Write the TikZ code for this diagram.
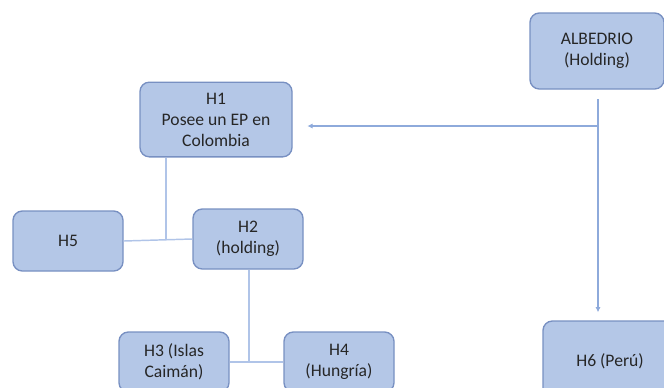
\documentclass[tikz,border=0pt]{standalone}
\usepackage{fontspec}
\setmainfont{Carlito}
\usetikzlibrary{arrows.meta}
\definecolor{cajaazul}{HTML}{B4C7E7}
\definecolor{bordeazul}{HTML}{7890C2}
\definecolor{lineaazul}{HTML}{B0C4E8}
\definecolor{flechaazul}{HTML}{8EAADB}
\begin{document}
\begin{tikzpicture}[
    x=0.75pt, y=-0.75pt,
    caja/.style={rectangle, draw=bordeazul, fill=cajaazul, line width=1pt, rounded corners=7pt, minimum width=82.5pt, minimum height=45pt, align=center, font=\fontsize{13.2}{15.75}\selectfont, text=black!85, inner sep=2pt},
    enlace/.style={draw=lineaazul, line width=1.1pt},
    flecha/.style={-{Latex[length=4pt,width=4pt]}, draw=flechaazul, line width=1pt}
]
    \useasboundingbox (0,0) rectangle (664,387);

    % Sociedades
    \node[caja, minimum width=100.5pt, minimum height=57pt] (alb) at (597,51) {ALBEDRIO\\(Holding)};
    \node[caja, minimum width=114pt, minimum height=56pt] (h1) at (216,119.5) {H1\\Posee un EP en\\Colombia};
    \node[caja] (h5) at (68,241) {H5};
    \node[caja] (h2) at (248,239) {H2\\(holding)};
    \node[caja] (h3) at (174,362) {H3 (Islas\\Caim\'an)};
    \node[caja] (h4) at (339,362) {H4\\(Hungr\'ia)};
    \node[caja, minimum width=100.5pt, minimum height=60pt] (h6) at (610,361) {H6 (Per\'u)};

    % Puntos de union
    \coordinate (ini) at (598,99);
    \coordinate (div) at (598,126);
    \coordinate (u1) at (166,240);
    \coordinate (u2) at (249,362);

    % Flechas
    \draw[flecha] (ini) -- (ini |- h6.north) [shorten >=6pt];
    \draw[flecha, shorten >=11pt] (div) -- (div -| h1.east);

    % Enlaces
    \draw[enlace] (h1.south -| u1) -- (u1);
    \draw[enlace] (h5.east) -- (h2.west);
    \draw[enlace] (h2.south -| u2) -- (u2);
    \draw[enlace] (h3.east) -- (h4.west);
\end{tikzpicture}
\end{document}
